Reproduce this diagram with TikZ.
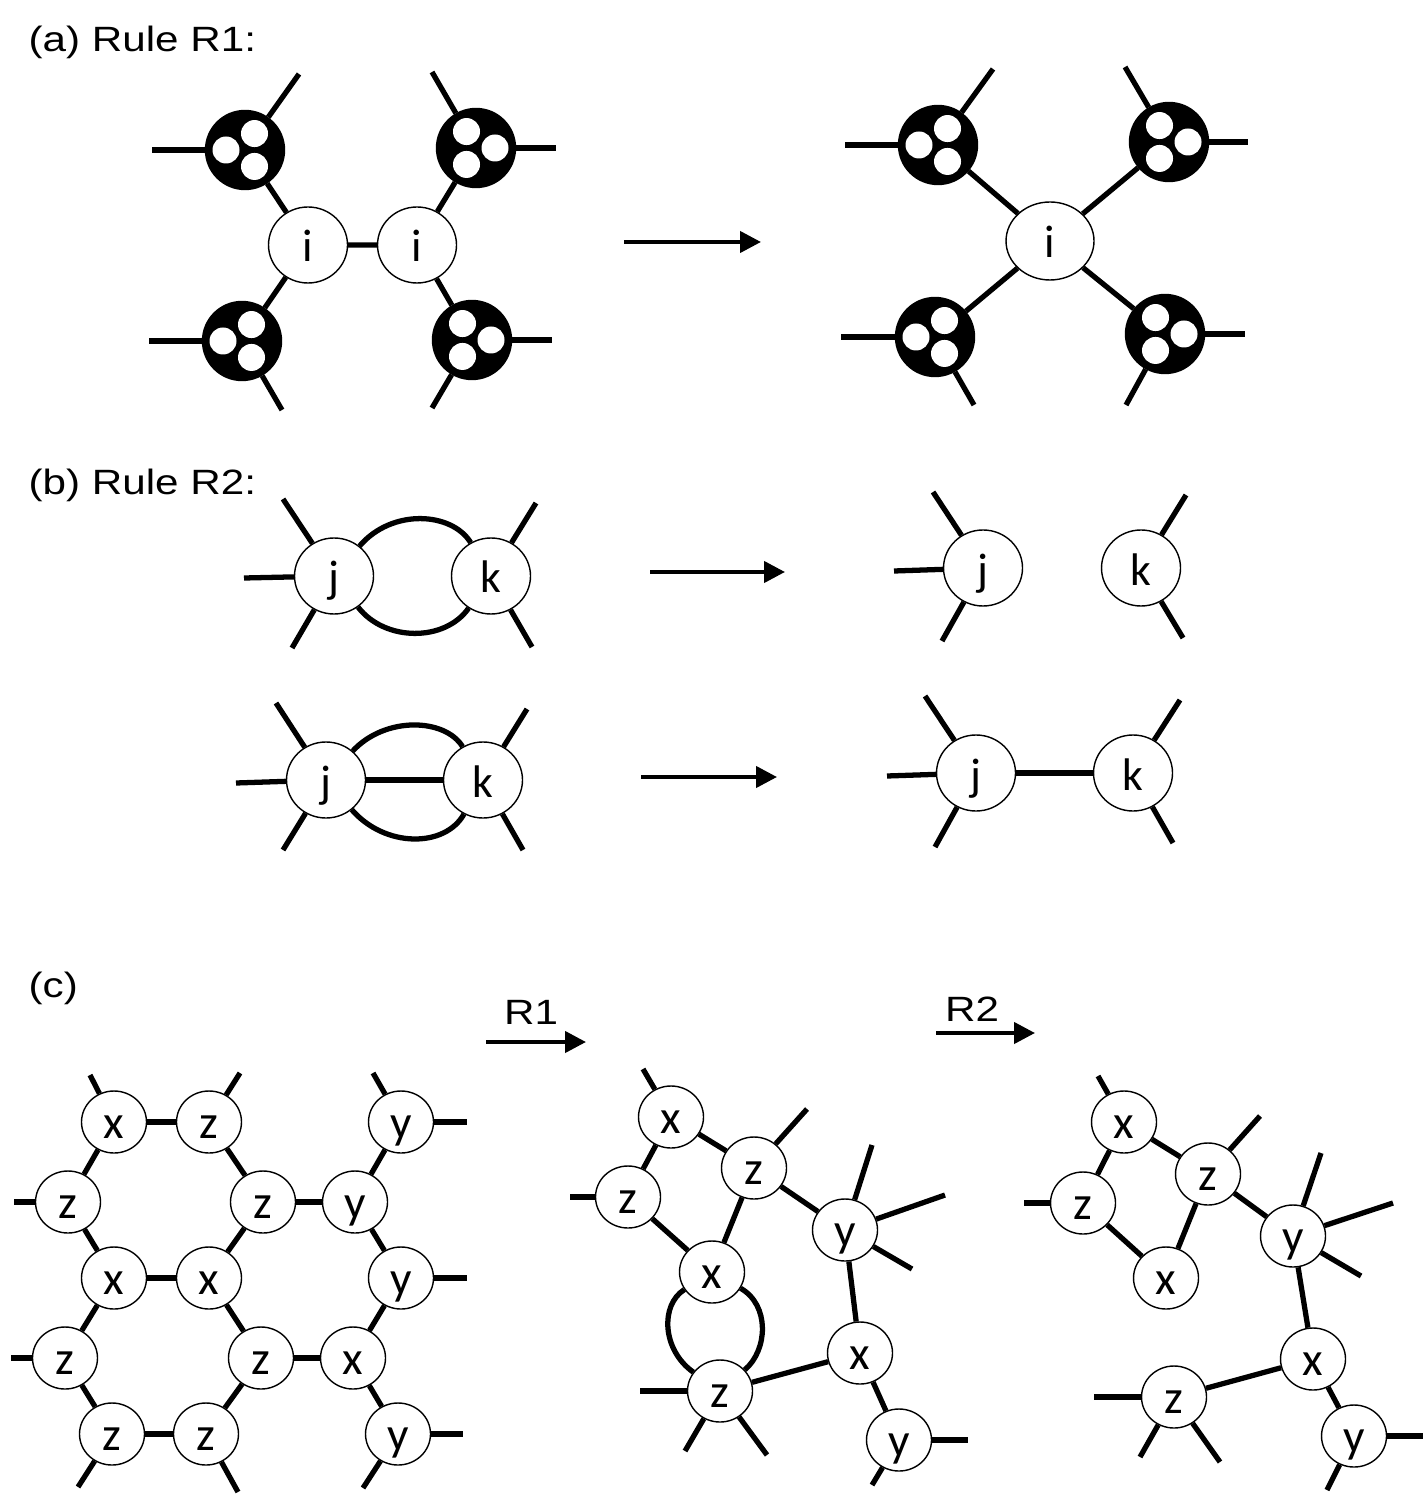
\documentclass[tikz,border=0pt]{standalone}
\usepackage{fontspec}
\usepackage{graphicx}
\setmainfont{Liberation Sans}
\newfontfamily\sitefont{Carlito}
\usetikzlibrary{shapes.geometric, arrows.meta}
\newcommand{\widthsite}{7.9mm}
\newcommand{\widthsmall}{6.5mm}
\newcommand{\dotradius}{1.35mm}
\newcommand{\wide}[1]{\scalebox{1.2}[1]{#1}}
\newcommand{\stubs}[2]{%
    \foreach \e [count=\k] in {#2} {
        \coordinate (#1-\k) at (\e);
        \draw[bond] (#1) -- (#1-\k);
    }}
\tikzset{
    common/.style={draw, ellipse, fill=white, inner sep=0pt, line width=0.4pt, text depth=0pt},
    site/.style={common, minimum width=\widthsite, minimum height=7.6mm, text height=3.4mm, font=\sitefont\fontsize{13}{15}\selectfont},
    csite/.style={common, minimum width=\widthsmall, minimum height=6.2mm, text height=3.2mm, font=\sitefont\fontsize{13.5}{15}\selectfont},
    blob/.style={draw, circle, fill=black, inner sep=0pt, minimum size=7.9mm},
    blobL/.style={blob, path picture={
        \foreach \a in {180,60,-60}
            \fill[white] ([shift={(\a:1.9mm)}]path picture bounding box.center) circle (\dotradius);
    }},
    blobR/.style={blob, path picture={
        \foreach \a in {0,120,240}
            \fill[white] ([shift={(\a:1.9mm)}]path picture bounding box.center) circle (\dotradius);
    }},
    bond/.style={line width=1.5pt},
    arr/.style={line width=1.2pt, -{Triangle[length=2.1mm, width=2.1mm]}},
    title/.style={anchor=base west, inner sep=0pt, font=\fontsize{10}{12}\selectfont},
    tag/.style={anchor=base, inner sep=0pt, font=\fontsize{10}{12}\selectfont}
}

\begin{document}
\begin{tikzpicture}[x=0.1mm, y=-0.1mm]
    \useasboundingbox (0,0) rectangle (1424,1495);

    % (a) rule R1
    \node[title] (lblA) at (28,52) {\wide{(a) Rule R1:}};
    \node[site] (i1) at (308,245) {i};
    \node[site] (i2) at (417,245) {i};
    \node[blobL] (bTL) at (245,150) {};
    \node[blobR] (bTR) at (476,148) {};
    \node[blobL] (bBL) at (242,341) {};
    \node[blobR] (bBR) at (472,340) {};
    \draw[bond] (bTL) -- (i1) -- (i2) -- (bTR) (bBL) -- (i1) (i2) -- (bBR);
    \stubs{bTL}{{152,150},{299,74}}
    \stubs{bTR}{{556,148},{432,72}}
    \stubs{bBL}{{149,341},{282,410}}
    \stubs{bBR}{{552,340},{432,408}}

    \coordinate (a1) at (624,242);
    \coordinate (a2) at (761,242);
    \draw[arr] (a1) -- (a2);

    \node[site, minimum width=8.8mm, minimum height=7.8mm] (i3) at (1050,241) {i};
    \node[blobL] (cTL) at (938,145) {};
    \node[blobR] (cTR) at (1169,142) {};
    \node[blobL] (cBL) at (935,337) {};
    \node[blobR] (cBR) at (1165,334) {};
    \foreach \b in {cTL,cTR,cBL,cBR}
        \draw[bond] (i3) -- (\b);
    \stubs{cTL}{{845,145},{993,69}}
    \stubs{cTR}{{1248,142},{1125,67}}
    \stubs{cBL}{{841,337},{974,405}}
    \stubs{cBR}{{1245,334},{1126,405}}

    % (b) rule R2
    \node[title] (lblB) at (28,495) {\wide{(b) Rule R2:}};
    \node[site] (j1) at (334,576) {j};
    \node[site] (k1) at (491,576) {k};
    \draw[bond] (j1) .. controls (392,508) and (452,512) .. (k1);
    \draw[bond] (j1) .. controls (385,642) and (445,642) .. (k1);
    \stubs{j1}{{283,499},{244,578},{292,648}}
    \stubs{k1}{{536,503},{532,647}}

    \coordinate (b1) at (650,572);
    \coordinate (b2) at (785,572);
    \draw[arr] (b1) -- (b2);

    \node[site] (j2) at (983,568) {j};
    \node[site] (k2) at (1141,568) {k};
    \stubs{j2}{{933,492},{894,571},{942,641}}
    \stubs{k2}{{1186,495},{1183,638}}

    \node[site] (j3) at (326,780) {j};
    \node[site] (k3) at (483,780) {k};
    \draw[bond] (j3) -- (k3);
    \draw[bond] (j3) .. controls (385,716) and (445,718) .. (k3);
    \draw[bond] (j3) .. controls (385,848) and (445,848) .. (k3);
    \stubs{j3}{{276,703},{236,783},{283,850}}
    \stubs{k3}{{527,709},{523,850}}

    \coordinate (b3) at (641,777);
    \coordinate (b4) at (777,777);
    \draw[arr] (b3) -- (b4);

    \node[site] (j4) at (976,773) {j};
    \node[site] (k4) at (1133,773) {k};
    \draw[bond] (j4) -- (k4);
    \stubs{j4}{{925,696},{887,776},{935,847}}
    \stubs{k4}{{1180,700},{1173,843}}

    % (c) applying the rules
    \node[title] (lblC) at (28,997) {\wide{(c)}};

    \foreach \n/\t/\p in {p1/x/{114,1122}, p2/z/{209,1122}, p3/y/{401,1122},
                          p4/z/{68,1202}, p5/z/{263,1202}, p6/y/{355,1202},
                          p7/x/{114,1278}, p8/x/{209,1278}, p9/y/{401,1278},
                          p10/z/{65,1358}, p11/z/{261,1358}, p12/x/{353,1358},
                          p13/z/{112,1434}, p14/z/{206,1434}, p15/y/{398,1434}}
        \node[csite] (\n) at (\p) {\t};
    \foreach \a/\b in {p1/p2, p1/p4, p2/p5, p5/p6, p6/p3, p6/p9, p4/p7, p7/p8, p8/p5,
                       p8/p11, p7/p10, p10/p13, p13/p14, p14/p11, p11/p12, p12/p9, p12/p15}
        \draw[bond] (\a) -- (\b);
    \stubs{p1}{{90,1075}}
    \stubs{p2}{{240,1073}}
    \stubs{p3}{{373,1073},{467,1122}}
    \stubs{p4}{{14,1202}}
    \stubs{p9}{{467,1278}}
    \stubs{p10}{{11,1358}}
    \stubs{p13}{{78,1487}}
    \stubs{p14}{{238,1492}}
    \stubs{p15}{{463,1434},{363,1488}}

    \node[tag] (lblR1) at (531,1024) {\wide{R1}};
    \coordinate (c1) at (486,1042);
    \coordinate (c2) at (586,1042);
    \draw[arr] (c1) -- (c2);

    \foreach \n/\t/\p in {q1/x/{671,1117}, q2/z/{754,1168}, q3/z/{628,1197}, q4/y/{845,1230},
                          q5/x/{712,1272}, q6/x/{860,1353}, q7/z/{720,1391}, q8/y/{899,1440}}
        \node[csite] (\n) at (\p) {\t};
    \foreach \a/\b in {q1/q2, q1/q3, q3/q5, q2/q5, q2/q4, q4/q6, q6/q7, q6/q8}
        \draw[bond] (\a) -- (\b);
    \draw[bond] (q5) .. controls (660,1305) and (662,1350) .. (q7);
    \draw[bond] (q5) .. controls (770,1305) and (768,1350) .. (q7);
    \stubs{q1}{{643,1069}}
    \stubs{q2}{{807,1109}}
    \stubs{q3}{{570,1197}}
    \stubs{q4}{{872,1145},{945,1195},{912,1269}}
    \stubs{q7}{{640,1391},{685,1451},{767,1455}}
    \stubs{q8}{{968,1440},{872,1485}}

    \node[tag] (lblR2) at (972,1021) {\wide{R2}};
    \coordinate (c3) at (936,1033);
    \coordinate (c4) at (1035,1033);
    \draw[arr] (c3) -- (c4);

    \foreach \n/\t/\p in {r1/x/{1124,1122}, r2/z/{1083,1203}, r3/z/{1208,1174}, r4/x/{1166,1278},
                          r5/y/{1293,1236}, r6/x/{1313,1359}, r7/z/{1174,1397}, r8/y/{1354,1436}}
        \node[csite] (\n) at (\p) {\t};
    \foreach \a/\b in {r1/r3, r1/r2, r2/r4, r3/r4, r3/r5, r5/r6, r6/r7, r6/r8}
        \draw[bond] (\a) -- (\b);
    \stubs{r1}{{1098,1076}}
    \stubs{r2}{{1024,1203}}
    \stubs{r3}{{1260,1116}}
    \stubs{r5}{{1321,1153},{1393,1203},{1361,1276}}
    \stubs{r7}{{1094,1397},{1140,1457},{1220,1462}}
    \stubs{r8}{{1423,1436},{1327,1490}}
\end{tikzpicture}
\end{document}
